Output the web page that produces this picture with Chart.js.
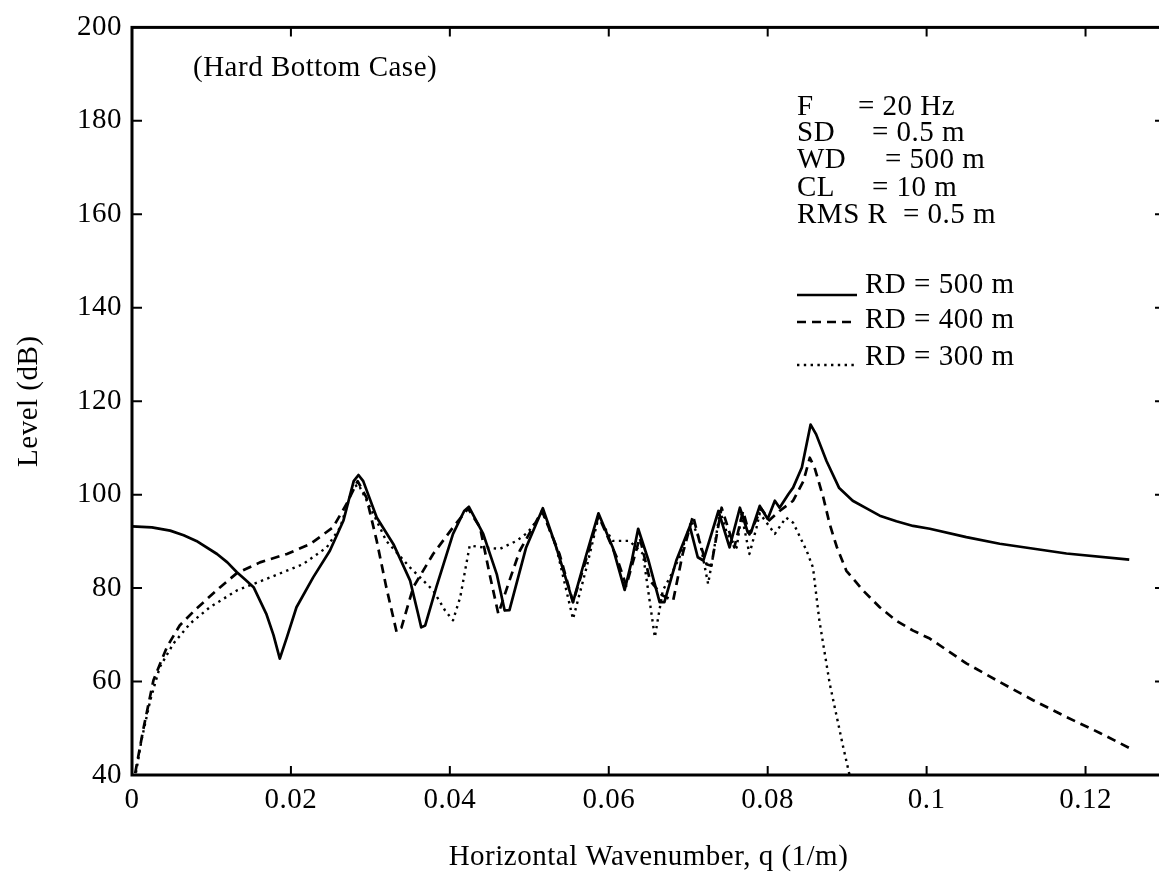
<!DOCTYPE html>
<html><head><meta charset="utf-8">
<script src="https://cdn.jsdelivr.net/npm/chart.js@4/dist/chart.umd.min.js"></script>
<style>
html,body{margin:0;padding:0;background:#fff;overflow:hidden;width:1159px;height:878px}
#wrap{position:absolute;left:0;top:0;width:1175px;height:878px}
</style></head><body>
<div id="wrap"><canvas id="c" width="1175" height="878"></canvas></div>
<script>
const xTickValues = [0, 0.02, 0.04, 0.06, 0.08, 0.1, 0.12];
const xTickLabels = ['0', '0.02', '0.04', '0.06', '0.08', '0.1', '0.12'];
const yTickValues = [40, 60, 80, 100, 120, 140, 160, 180, 200];

const q500 = [0, 0.0025, 0.0048, 0.0065, 0.0081, 0.0107, 0.012, 0.0132, 0.0142, 0.0153, 0.0169, 0.0178, 0.0186, 0.0195, 0.0207, 0.0228, 0.0249, 0.0266, 0.0279, 0.0285, 0.0291, 0.0308, 0.0329, 0.035, 0.036, 0.0364, 0.0369, 0.0383, 0.0404, 0.0418, 0.0424, 0.0442, 0.0459, 0.0469, 0.0475, 0.0496, 0.0517, 0.0534, 0.0555, 0.0572, 0.0587, 0.0605, 0.062, 0.0629, 0.0637, 0.065, 0.0664, 0.067, 0.0685, 0.0702, 0.0712, 0.0719, 0.0738, 0.0752, 0.0765, 0.0775, 0.0779, 0.079, 0.08, 0.0809, 0.0815, 0.0826, 0.0832, 0.0843, 0.0854, 0.0861, 0.0874, 0.089, 0.0907, 0.0925, 0.0941, 0.0962, 0.0983, 0.1004, 0.105, 0.1092, 0.1176, 0.1255];
const level500 = [93.2, 93.0, 92.3, 91.3, 90.1, 87.3, 85.5, 83.4, 81.9, 80.2, 74.5, 70.0, 64.9, 69.5, 75.9, 82.3, 88.0, 94.4, 102.9, 104.2, 102.9, 95.1, 89.4, 81.6, 74.5, 71.6, 72.0, 80.2, 91.6, 96.5, 97.4, 91.6, 83.0, 75.2, 75.3, 88.7, 97.1, 88.7, 77.0, 87.3, 96.0, 88.7, 79.6, 85.9, 92.7, 85.9, 77.0, 77.0, 85.9, 93.2, 86.6, 85.9, 96.5, 88.7, 97.2, 91.9, 91.9, 97.6, 94.8, 98.7, 97.2, 100.1, 101.5, 105.8, 115.0, 112.9, 107.2, 101.4, 98.7, 97.0, 95.5, 94.3, 93.3, 92.7, 90.9, 89.5, 87.4, 86.1];

const q400 = [0.0004, 0.0014, 0.0027, 0.0044, 0.006, 0.0081, 0.0111, 0.0132, 0.0161, 0.0195, 0.0224, 0.0253, 0.027, 0.0284, 0.0295, 0.0308, 0.032, 0.0333, 0.0339, 0.0354, 0.0379, 0.0404, 0.0423, 0.0438, 0.045, 0.0461, 0.0475, 0.0488, 0.0516, 0.0538, 0.0555, 0.0572, 0.0587, 0.061, 0.0622, 0.0639, 0.0652, 0.0667, 0.0681, 0.0693, 0.0706, 0.0714, 0.0723, 0.0729, 0.0742, 0.0758, 0.0769, 0.0777, 0.0792, 0.0802, 0.0815, 0.0832, 0.0845, 0.0853, 0.0859, 0.087, 0.0878, 0.0887, 0.0899, 0.092, 0.0941, 0.0962, 0.0983, 0.1004, 0.105, 0.1092, 0.1134, 0.1176, 0.1218, 0.1255];
const level400 = [40.4, 49.6, 60.3, 67.4, 72.0, 75.6, 80.2, 83.2, 85.5, 87.3, 89.4, 93.0, 98.0, 102.9, 99.4, 90.1, 80.2, 70.6, 71.5, 80.2, 87.3, 93.0, 97.0, 93.0, 83.0, 74.5, 81.6, 88.0, 96.5, 87.3, 77.0, 86.4, 95.5, 86.6, 80.5, 90.8, 81.6, 78.5, 77.3, 87.3, 95.5, 90.1, 85.1, 84.8, 97.2, 88.7, 96.5, 91.5, 97.0, 94.5, 96.5, 98.7, 102.9, 107.9, 105.8, 99.4, 93.7, 88.8, 83.7, 79.5, 75.9, 73.0, 70.9, 69.2, 63.9, 59.9, 56.0, 52.4, 49.0, 45.8];

const q300 = [0.0005, 0.0012, 0.0023, 0.0035, 0.0052, 0.0073, 0.0098, 0.0132, 0.0174, 0.0215, 0.0245, 0.0262, 0.0278, 0.0285, 0.0304, 0.032, 0.035, 0.0379, 0.0394, 0.0404, 0.0413, 0.0425, 0.0442, 0.0463, 0.0484, 0.0498, 0.0517, 0.0534, 0.0555, 0.0572, 0.0587, 0.0605, 0.0626, 0.0643, 0.0658, 0.0668, 0.0677, 0.0689, 0.0704, 0.0714, 0.0725, 0.0731, 0.074, 0.0749, 0.0761, 0.0767, 0.0777, 0.0786, 0.079, 0.0809, 0.0823, 0.0832, 0.0849, 0.0857, 0.0861, 0.0865, 0.0878, 0.0895, 0.0903];
const level300 = [40.5, 47.5, 56.0, 63.1, 68.1, 72.4, 75.9, 79.5, 82.3, 85.1, 88.7, 93.0, 101.5, 102.2, 95.8, 90.1, 84.4, 79.5, 75.2, 73.1, 78.0, 89.1, 88.7, 88.4, 90.1, 91.9, 96.2, 88.7, 73.4, 84.4, 95.1, 90.1, 90.1, 87.3, 69.5, 79.5, 82.3, 86.6, 94.4, 90.5, 80.9, 86.6, 96.5, 91.6, 88.7, 95.8, 87.3, 93.0, 96.0, 91.6, 95.1, 94.0, 88.0, 84.4, 78.7, 73.1, 59.6, 46.0, 40.0];

const seriesLabels = ['RD = 500 m', 'RD = 400 m', 'RD = 300 m'];
const paramNames = ['F', 'SD', 'WD', 'CL', 'RMS R'];
const paramValues = ['= 20 Hz', '= 0.5 m', '= 500 m', '= 10 m', '= 0.5 m'];
const caseLabel = '(Hard Bottom Case)';

const FONT = '"Liberation Serif", "Times New Roman", serif';
const FSIZE = 29;
const pts = (xs, ys) => xs.map((x, i) => ({x: x, y: ys[i]}));

const styles = [
  {borderWidth: 2.7, borderDash: []},
  {borderWidth: 2.7, borderDash: [9, 6]},
  {borderWidth: 2.4, borderDash: [2.4, 4.4]}
];

const spacingPlugin = {
  id: 'spacing',
  beforeLayout(chart) { chart.ctx.letterSpacing = '0.5px'; },
  beforeDraw(chart) { chart.ctx.letterSpacing = '0.5px'; }
};

const annotPlugin = {
  id: 'annot',
  afterDraw(chart) {
    const ctx = chart.ctx;
    const {left, right, top, bottom} = chart.chartArea;
    const xs = chart.scales.x, ys = chart.scales.y;
    ctx.save();
    ctx.strokeStyle = '#000';
    ctx.lineWidth = 3;
    ctx.strokeRect(left, top, right - left, bottom - top);
    ctx.lineWidth = 2;
    ctx.beginPath();
    xTickValues.forEach(v => {
      if (v === 0) return;
      const px = xs.getPixelForValue(v);
      ctx.moveTo(px, bottom); ctx.lineTo(px, bottom - 9);
      ctx.moveTo(px, top); ctx.lineTo(px, top + 9);
    });
    yTickValues.forEach(v => {
      if (v === 40 || v === 200) return;
      const py = ys.getPixelForValue(v);
      ctx.moveTo(left, py); ctx.lineTo(left + 10, py);
      ctx.moveTo(right, py); ctx.lineTo(right - 10, py);
    });
    ctx.stroke();

    ctx.fillStyle = '#000';
    ctx.font = FSIZE + 'px ' + FONT;
    ctx.letterSpacing = '0.5px';
    ctx.textBaseline = 'middle';
    ctx.textAlign = 'left';
    ctx.fillText(caseLabel, 193, 68);
    const pY = [107, 133, 160, 188, 215];
    const eqX = [858, 872, 885, 872, 903];
    paramNames.forEach((n, i) => {
      ctx.fillText(n, 797, pY[i]);
      ctx.fillText(paramValues[i], eqX[i], pY[i]);
    });
    const lY = [285, 320, 357];
    const lineY = [295, 322, 365];
    seriesLabels.forEach((s, i) => {
      ctx.fillText(s, 865, lY[i]);
      ctx.save();
      ctx.lineWidth = styles[i].borderWidth;
      ctx.setLineDash(styles[i].borderDash);
      ctx.beginPath();
      ctx.moveTo(797, lineY[i]); ctx.lineTo(857, lineY[i]);
      ctx.stroke();
      ctx.restore();
    });
    ctx.restore();
  }
};

new Chart(document.getElementById('c'), {
  type: 'line',
  data: {
    datasets: [
      {label: seriesLabels[0], data: pts(q500, level500)},
      {label: seriesLabels[1], data: pts(q400, level400)},
      {label: seriesLabels[2], data: pts(q300, level300)}
    ].map((d, i) => Object.assign(d, {
      borderColor: '#000', backgroundColor: '#000', borderWidth: styles[i].borderWidth,
      borderDash: styles[i].borderDash, pointRadius: 0, tension: 0, fill: false,
      borderCapStyle: 'butt', borderJoinStyle: 'round'
    }))
  },
  options: {
    responsive: false, devicePixelRatio: 1, animation: false,
    layout: {padding: {left: 0, top: 25, right: 10, bottom: 0}},
    plugins: {legend: {display: false}, tooltip: {enabled: false}},
    scales: {
      x: {
        type: 'linear', min: 0, max: 0.13,
        afterBuildTicks: s => { s.ticks = xTickValues.map(v => ({value: v})); },
        afterFit: s => { s.height = 103; },
        grid: {display: false, drawTicks: false},
        border: {display: false},
        ticks: {
          autoSkip: false, maxRotation: 0, padding: 8, color: '#000',
          font: {family: FONT, size: FSIZE},
          callback: (v, i) => xTickLabels[i]
        },
        title: {display: true, text: 'Horizontal Wavenumber, q (1/m)', color: '#000',
          font: {family: FONT, size: FSIZE}, padding: {top: 0, bottom: 3}}
      },
      y: {
        type: 'linear', min: 40, max: 200,
        afterBuildTicks: s => { s.ticks = yTickValues.map(v => ({value: v})); },
        afterFit: s => { s.width = 132; },
        grid: {display: false, drawTicks: false},
        border: {display: false},
        ticks: {padding: 10, color: '#000', font: {family: FONT, size: FSIZE}},
        title: {display: true, text: 'Level (dB)', color: '#000',
          font: {family: FONT, size: FSIZE}, padding: {top: 12, bottom: 0}}
      }
    }
  },
  plugins: [spacingPlugin, annotPlugin]
});
</script>
</body></html>
